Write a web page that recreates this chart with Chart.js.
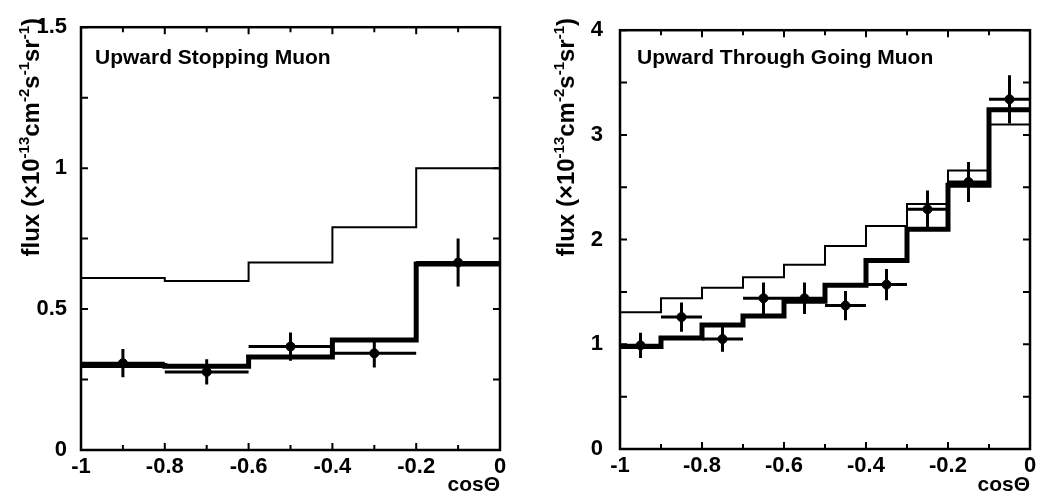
<!DOCTYPE html>
<html>
<head>
<meta charset="utf-8">
<script src="https://cdn.jsdelivr.net/npm/chart.js@4.4.1/dist/chart.umd.min.js"></script>
<style>
  html, body { margin: 0; padding: 0; background: #fff; }
  #left { position: absolute; left: 0; top: 0; width: 520px; height: 498px; }
  #right { position: absolute; left: 520px; top: 0; width: 536px; height: 498px; }
</style>
</head>
<body>
<div id="left"><canvas id="chartStop"></canvas></div>
<div id="right"><canvas id="chartThru"></canvas></div>
<script>
// upward stopping muons, 5 bins of cos(theta)
const stopBinEdges = [-1, -0.8, -0.6, -0.4, -0.2, 0];
const stopNoOsc = [0.61, 0.60, 0.665, 0.79, 1.0];
const stopOsc = [0.30, 0.297, 0.33, 0.39, 0.66];
const stopData = [0.308, 0.277, 0.367, 0.343, 0.665];
const stopErr = [0.05, 0.045, 0.05, 0.05, 0.085];

// upward through going muons, 10 bins
const thruBinEdges = [-1, -0.9, -0.8, -0.7, -0.6, -0.5, -0.4, -0.3, -0.2, -0.1, 0];
const thruNoOsc = [1.305, 1.44, 1.54, 1.64, 1.76, 1.94, 2.13, 2.34, 2.66, 3.10];
const thruOsc = [0.98, 1.06, 1.185, 1.27, 1.41, 1.565, 1.80, 2.10, 2.52, 3.24];
const thruData = [0.99, 1.26, 1.05, 1.44, 1.44, 1.37, 1.57, 2.29, 2.55, 3.34];
const thruErr = [0.12, 0.14, 0.12, 0.15, 0.15, 0.14, 0.15, 0.18, 0.19, 0.23];

const yTitleParts = [
  ['flux (\u00d710', false], ['-13', true], ['cm', false], ['-2', true],
  ['s', false], ['-1', true], ['sr', false], ['-1', true], [')', false]
];

const FONT = '"Liberation Sans", Arial, Helvetica, sans-serif';

function histPoints(edges, vals) {
  const pts = vals.map((v, i) => ({ x: edges[i], y: v }));
  pts.push({ x: edges[edges.length - 1], y: vals[vals.length - 1] });
  return pts;
}

function xErrBars(edges, vals) {
  const pts = [];
  vals.forEach((v, i) => {
    pts.push({ x: edges[i], y: v }, { x: edges[i + 1], y: v }, { x: edges[i + 1], y: null });
  });
  return pts;
}

function yErrBars(edges, vals, errs) {
  const pts = [];
  vals.forEach((v, i) => {
    const c = (edges[i] + edges[i + 1]) / 2;
    pts.push({ x: c, y: v - errs[i] }, { x: c, y: v + errs[i] }, { x: c, y: null });
  });
  return pts;
}

function centers(edges, vals) {
  return vals.map((v, i) => ({ x: (edges[i] + edges[i + 1]) / 2, y: v }));
}

const fmt = v => String(Number(v.toFixed(2)));

// frame, inward ticks, panel label and y title
const decor = {
  id: 'decor',
  afterDraw(chart, args, opts) {
    const ctx = chart.ctx;
    const a = chart.chartArea;
    const xs = chart.scales.x, ys = chart.scales.y;
    ctx.save();
    ctx.strokeStyle = '#000';
    ctx.lineWidth = 2.5;
    ctx.strokeRect(a.left, a.top, a.right - a.left, a.bottom - a.top);
    ctx.lineWidth = 2;
    ctx.beginPath();
    for (let v = xs.min; v <= xs.max + 1e-9; v += opts.xMinor) {
      const p = xs.getPixelForValue(v);
      const len = Math.abs(Math.round(v / 0.2) * 0.2 - v) < 1e-6 ? 7 : 5;
      ctx.moveTo(p, a.bottom); ctx.lineTo(p, a.bottom - len);
      ctx.moveTo(p, a.top); ctx.lineTo(p, a.top + len);
    }
    for (let v = ys.min; v <= ys.max + 1e-9; v += opts.yMinor) {
      const p = ys.getPixelForValue(v);
      ctx.moveTo(a.left, p); ctx.lineTo(a.left + 7, p);
      ctx.moveTo(a.right, p); ctx.lineTo(a.right - 7, p);
    }
    ctx.stroke();

    ctx.fillStyle = '#000';
    ctx.font = 'bold 21px ' + FONT;
    ctx.textAlign = 'left';
    ctx.textBaseline = 'alphabetic';
    ctx.fillText(opts.label, a.left + opts.labelDx, 64);

    // rotated y title with superscripts
    ctx.translate(opts.titleX, 18);
    ctx.rotate(-Math.PI / 2);
    const widths = yTitleParts.map(([t, sup]) => {
      ctx.font = 'bold ' + (sup ? 15 : 24) + 'px ' + FONT;
      return ctx.measureText(t).width;
    });
    let x = -widths.reduce((s, w) => s + w, 0);
    yTitleParts.forEach(([t, sup], i) => {
      ctx.font = 'bold ' + (sup ? 15 : 24) + 'px ' + FONT;
      ctx.fillText(t, x, sup ? -10 : 0);
      x += widths[i];
    });
    ctx.restore();
  }
};

function makeConfig(edges, noOsc, osc, data, errs, p) {
  return {
    type: 'scatter',
    data: {
      datasets: [
        { data: histPoints(edges, noOsc), showLine: true, stepped: true, borderColor: '#000', borderWidth: 2, pointRadius: 0 },
        { data: histPoints(edges, osc), showLine: true, stepped: true, borderColor: '#000', borderWidth: 5, pointRadius: 0 },
        { data: xErrBars(edges, data), showLine: true, spanGaps: false, borderColor: '#000', borderWidth: 3, pointRadius: 0 },
        { data: yErrBars(edges, data, errs), showLine: true, spanGaps: false, borderColor: '#000', borderWidth: 3, pointRadius: 0 },
        { data: centers(edges, data), showLine: false, pointRadius: 4.5, backgroundColor: '#000', borderColor: '#000' }
      ]
    },
    options: {
      responsive: true,
      maintainAspectRatio: false,
      animation: false,
      layout: { padding: { top: 17, right: p.padRight, left: 0, bottom: 0 } },
      plugins: {
        legend: { display: false },
        tooltip: { enabled: false },
        decor: { xMinor: 0.1, yMinor: p.yMinor, label: p.label, labelDx: p.labelDx, titleX: p.titleX }
      },
      scales: {
        x: {
          type: 'linear', min: -1, max: 0,
          grid: { display: false, drawTicks: false },
          border: { display: false },
          ticks: { stepSize: 0.2, padding: 4, color: '#000', callback: fmt, font: { family: FONT, size: 22, weight: 'bold' } },
          title: { display: true, text: 'cos\u0398', align: 'end', color: '#000', padding: 0, font: { family: FONT, size: 21, weight: 'bold' } },
          afterFit(s) { s.height = p.xHeight; }
        },
        y: {
          type: 'linear', min: 0, max: p.yMax,
          grid: { display: false, drawTicks: false },
          border: { display: false },
          ticks: { stepSize: p.yStep, padding: p.yPad, color: '#000', callback: fmt, font: { family: FONT, size: 22, weight: 'bold' } },
          afterFit(s) { s.width = p.yWidth; }
        }
      }
    },
    plugins: [decor]
  };
}

new Chart(document.getElementById('chartStop'), makeConfig(stopBinEdges, stopNoOsc, stopOsc, stopData, stopErr, {
  padRight: 20, yMax: 1.5, yStep: 0.5, yMinor: 0.25, yPad: 14, yWidth: 81, xHeight: 48,
  label: 'Upward Stopping Muon', labelDx: 14, titleX: 39
}));

new Chart(document.getElementById('chartThru'), makeConfig(thruBinEdges, thruNoOsc, thruOsc, thruData, thruErr, {
  padRight: 26, yMax: 4, yStep: 1, yMinor: 0.5, yPad: 17, yWidth: 100, xHeight: 49,
  label: 'Upward Through Going Muon', labelDx: 17, titleX: 54
}));
</script>
</body>
</html>
